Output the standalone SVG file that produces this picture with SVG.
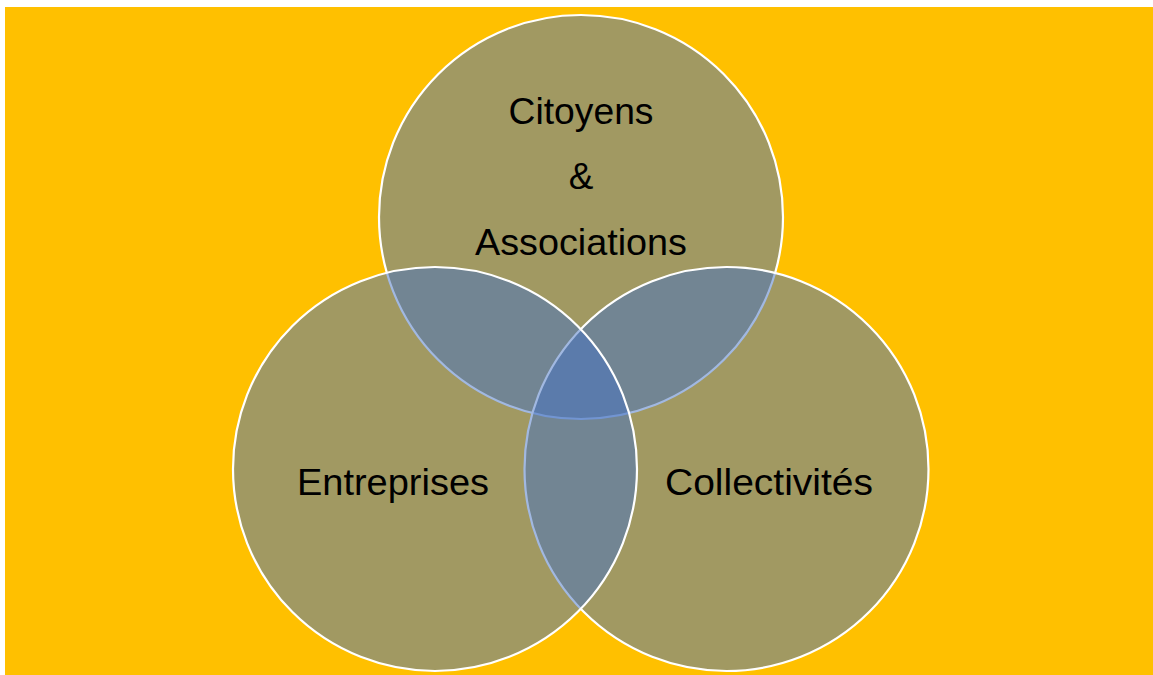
<svg xmlns="http://www.w3.org/2000/svg" width="1153" height="675" viewBox="0 0 1153 675">
<style>
.c{fill:#4472C4;fill-opacity:0.5;stroke:#FFFFFF;stroke-width:2.2}
.t{font-family:"Liberation Sans",Arial,sans-serif;font-size:37px;fill:#000000;text-anchor:middle}
</style>
<rect x="0" y="0" width="1153" height="675" fill="#FFFFFF"/>
<rect x="5" y="7" width="1148" height="668" fill="#FFC000"/>
<g id="node-citoyens">
<circle class="c" cx="581" cy="217" r="202"/>
</g>
<g id="node-collectivites">
<circle class="c" cx="726.5" cy="469" r="202"/>
</g>
<g id="node-entreprises">
<circle class="c" cx="435" cy="469" r="202"/>
</g>
<g id="labels">
<text class="t" x="581" y="124" textLength="145" lengthAdjust="spacingAndGlyphs">Citoyens</text>
<text class="t" x="581" y="189">&amp;</text>
<text class="t" x="581" y="255" textLength="212" lengthAdjust="spacingAndGlyphs">Associations</text>
<text class="t" x="393" y="495" textLength="192" lengthAdjust="spacingAndGlyphs">Entreprises</text>
<text class="t" x="769" y="495" textLength="208" lengthAdjust="spacingAndGlyphs">Collectivités</text>
</g>
<g id="connectors"></g>
</svg>
